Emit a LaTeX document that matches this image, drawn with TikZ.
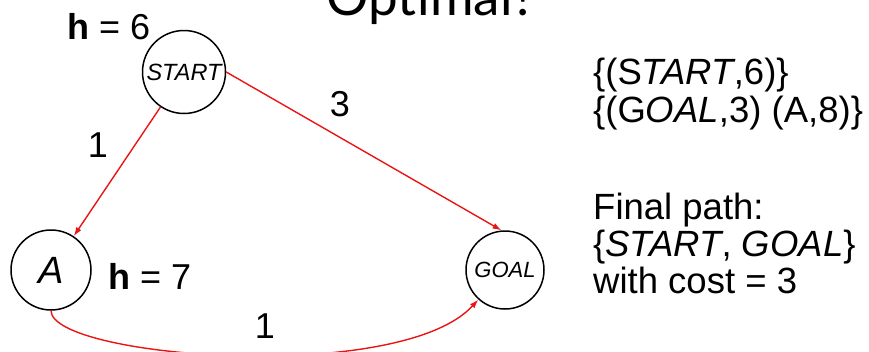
\documentclass[tikz,border=0pt]{standalone}
\usepackage{fontspec}
\setmainfont{Liberation Sans}
\newfontfamily\titlefont{Lato}
\usetikzlibrary{arrows.meta}
\definecolor{edgered}{RGB}{235,20,20}

\begin{document}
\begin{tikzpicture}[x=1pt,y=1pt,line cap=round,line join=round,
  state/.style={circle,draw=black,line width=1.5pt,inner sep=0pt,fill=white},
  arc/.style={-{Latex[length=9pt,width=6pt]},edgered,line width=1.4pt},
  big/.style={font=\fontsize{36.5}{37}\selectfont},
  lbl/.style={font=\fontsize{36}{36}\selectfont,anchor=base}]
\useasboundingbox (0,0) rectangle (869,-351);
% title, cut at the top edge
\node[font=\titlefont\fontsize{53}{53}\selectfont,anchor=base west,inner sep=0pt] (title) at (326,-15) {Optimal?};
% search graph
\node[state,minimum size=83pt,font=\itshape\fontsize{23.5}{23.5}\selectfont] (start) at (184,-72) {START};
\node[state,minimum size=80pt,font=\itshape\fontsize{38}{38}\selectfont] (a) at (51,-270) {A};
\node[state,minimum size=78pt,font=\itshape\fontsize{22}{22}\selectfont] (goal) at (505,-270) {GOAL};
\node[lbl,anchor=base west,inner sep=0pt] (hstart) at (67,-39) {\textbf{h} = 6};
\node[lbl,anchor=base west,inner sep=0pt] (ha) at (108,-289) {\textbf{h} = 7};
\draw[arc] (start) -- (a);
\draw[arc] (start.east) -- (goal.95);
\draw[arc] (a.south) .. controls (52,-358) and (400,-385) .. (goal.228);
\node[lbl] (wsa) at (98,-157) {1};
\node[lbl] (wsg) at (340,-116) {3};
\node[lbl] (wag) at (265,-338) {1};
% open list and result
\node[font=\fontsize{36.5}{38}\selectfont,anchor=base west,inner sep=0pt,align=left] (openlist) at (593,-122)
  {\{(S\textit{TART},6)\}\\ \{(G\textit{OAL},3) (A,8)\}};
\node[big,anchor=base west,inner sep=0pt,align=left] (result) at (593,-293)
  {Final path:\\ \{\textit{START}, \textit{GOAL}\}\\ with cost = 3};
\end{tikzpicture}
\end{document}
